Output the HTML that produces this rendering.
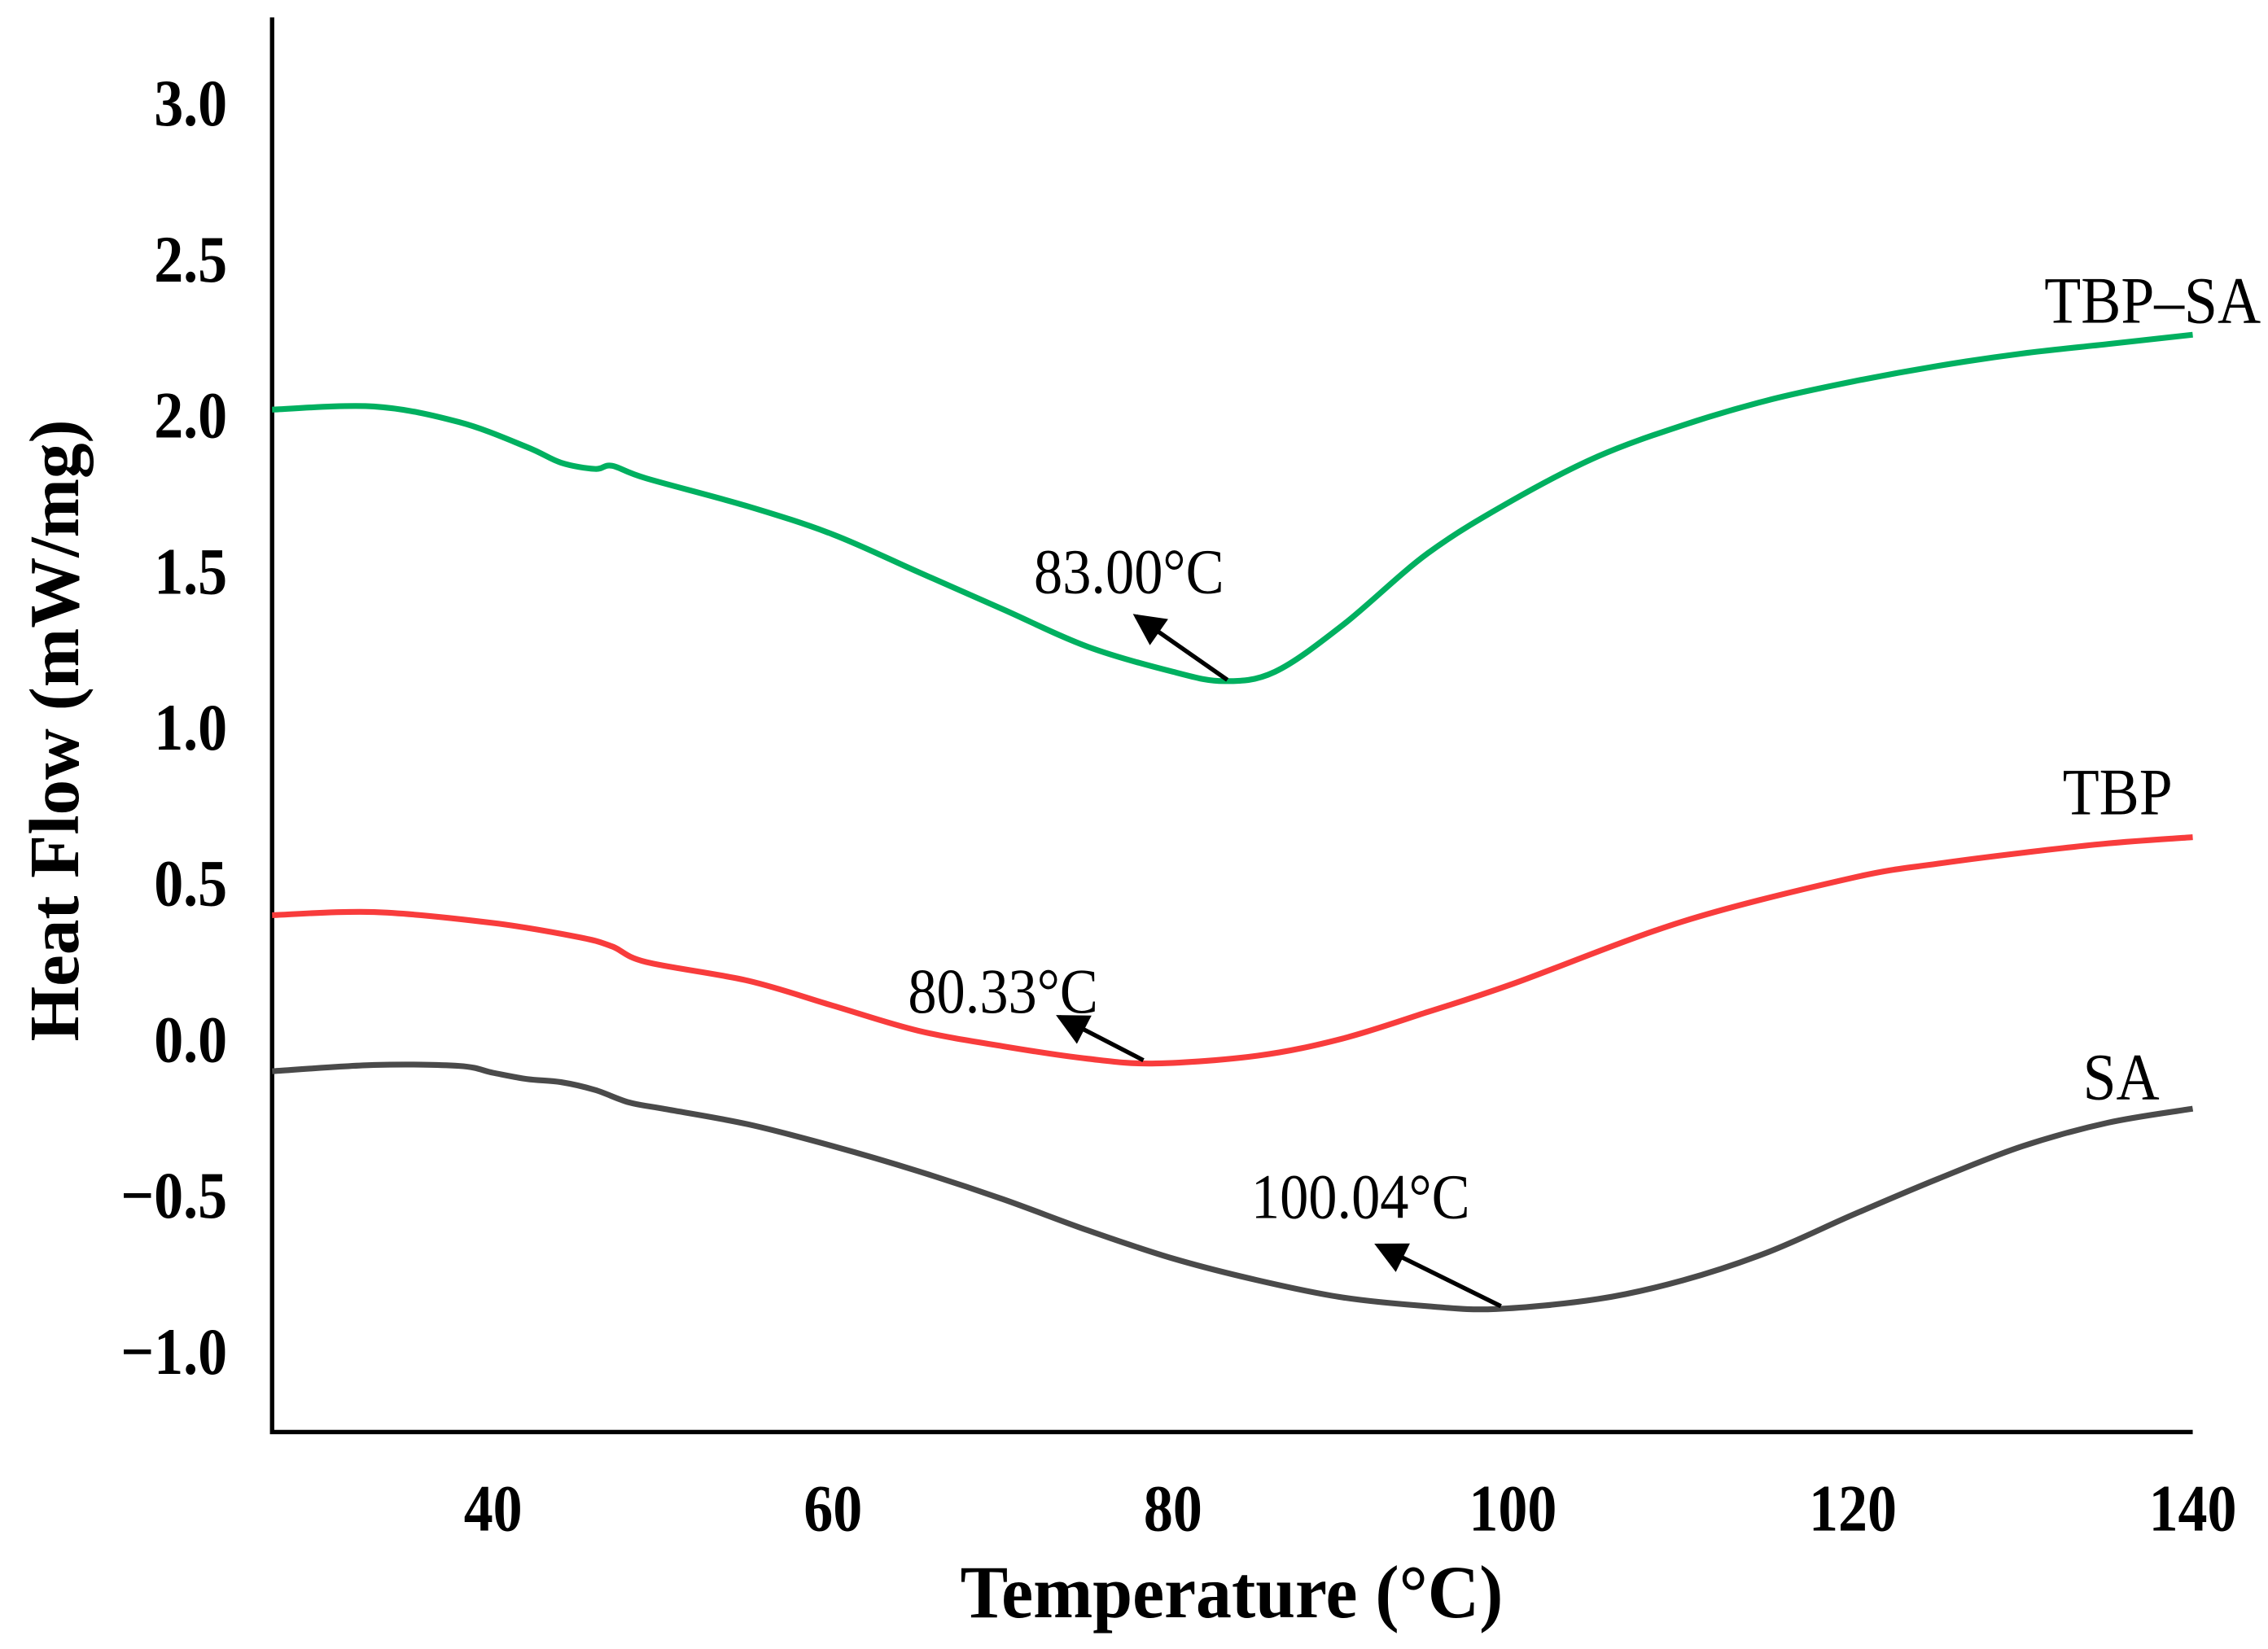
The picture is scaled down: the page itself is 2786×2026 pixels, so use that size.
<!DOCTYPE html>
<html><head><meta charset="utf-8"><style>html,body{margin:0;padding:0;background:#fff}svg{display:block}</style></head>
<body>
<svg id="chart" width="2786" height="2026" viewBox="0 0 1567 1140" preserveAspectRatio="none" xmlns="http://www.w3.org/2000/svg" font-family="'Liberation Serif', serif">
<g id="axes"></g>
<g id="series"></g>
<g id="annots"></g>
</svg>
<script>
const xTicks = [40, 60, 80, 100, 120, 140];
const yTicks = [3.0, 2.5, 2.0, 1.5, 1.0, 0.5, 0.0, -0.5, -1.0];
const yTickLabels = ["3.0","2.5","2.0","1.5","1.0","0.5","0.0","\u22120.5","\u22121.0"];
const tbpsaX = [27,33,38,42,44,46,47,49,55,60,65,70,75,80,83,86,90,95,100,105,110,115,120,125,130,135,140];
const tbpsaY = [2.02,2.03,1.98,1.90,1.85,1.83,1.84,1.80,1.71,1.62,1.50,1.38,1.26,1.18,1.15,1.18,1.33,1.56,1.73,1.87,1.97,2.05,2.11,2.16,2.20,2.23,2.26];
const tbpX = [27,33,40,45,47,49,55,60,65,70,75,79,85,90,95,100,110,120,125,130,135,140];
const tbpY = [0.40,0.41,0.375,0.33,0.30,0.25,0.19,0.11,0.03,-0.02,-0.06,-0.075,-0.05,0.005,0.09,0.18,0.38,0.52,0.565,0.60,0.63,0.65];
const saX = [27,33,38,40,42,44,46,48,50,55,60,65,70,75,80,85,90,95,99,105,110,115,120,125,130,135,140];
const saY = [-0.10,-0.08,-0.083,-0.105,-0.125,-0.135,-0.16,-0.20,-0.22,-0.27,-0.34,-0.42,-0.51,-0.61,-0.70,-0.77,-0.825,-0.853,-0.862,-0.83,-0.77,-0.68,-0.56,-0.445,-0.34,-0.265,-0.22];
const peakTemps = ["83.00\u00b0C","80.33\u00b0C","100.04\u00b0C"];

const NS="http://www.w3.org/2000/svg";
const X0=27, X1=140, PX0=188, PX1=1515;
const sx=v=>PX0+(v-X0)*(PX1-PX0)/(X1-X0);
const sy=v=>719-v*215.75;
function mk(t,p,a){const e=document.createElementNS(NS,t);for(const k in a)e.setAttribute(k,a[k]);p.appendChild(e);return e;}
function txt(p,s,x,y,anchor,fs,bold,sc){const t=mk('text',p,{x:0,y:0,'text-anchor':anchor,'font-size':fs,transform:`translate(${x},${y}) scale(${sc},1)`});if(bold)t.setAttribute('font-weight','bold');t.textContent=s;return t;}
const axes=document.getElementById('axes');
let l=mk('path',axes,{d:`M${PX0},12 V990 H${PX1}`,fill:'none',stroke:'#000','stroke-width':3});


xTicks.forEach(v=>{const t=txt(axes,String(v),sx(v),1058,'middle',46,true,0.88);

});
yTicks.forEach((v,i)=>{const t=txt(axes,yTickLabels[i],157,sy(v)+15,'end',46,true,0.88);

});
let xt=txt(axes,'Temperature (\u00b0C)',851,1118,'middle',52,true,0.95);


let yt=mk('text',axes,{x:0,y:0,'text-anchor':'middle','font-size':49,'font-weight':'bold',transform:'translate(54,505) rotate(-90)'});yt.textContent='Heat Flow (mW/mg)';



function smooth(xs,ys){const p=xs.map((x,i)=>[sx(x),sy(ys[i])]);let d=`M${p[0][0]},${p[0][1]}`;
for(let i=0;i<p.length-1;i++){const a=p[i-1]||p[i],b=p[i],c=p[i+1],e=p[i+2]||c;
d+=` C${b[0]+(c[0]-a[0])/6},${b[1]+(c[1]-a[1])/6} ${c[0]-(e[0]-b[0])/6},${c[1]-(e[1]-b[1])/6} ${c[0]},${c[1]}`;}return d;}
const sg=document.getElementById('series');
let s1=mk('path',sg,{d:smooth(tbpsaX,tbpsaY),fill:'none',stroke:'#00b060','stroke-width':4});


let s2=mk('path',sg,{d:smooth(tbpX,tbpY),fill:'none',stroke:'#f83c3c','stroke-width':4});


let s3=mk('path',sg,{d:smooth(saX,saY),fill:'none',stroke:'#4a4a4a','stroke-width':4});



const an=document.getElementById('annots');
const defs=mk('defs',an,{});const m=mk('marker',defs,{id:'ah',refX:7,refY:4,orient:'auto',markerUnits:'userSpaceOnUse'});
m.setAttribute('viewBox','0 0 8 8');m.setAttribute('markerWidth','26');m.setAttribute('markerHeight','22');
mk('path',m,{d:'M0,0 L8,4 L0,8 Z',fill:'#000'});
function label(s,x,y,anchor,fs,name){const t=txt(an,s,x,y,anchor,fs,false,0.9);

}
function arrow(x1,y1,x2,y2,name){const a=mk('line',an,{x1:x1,y1:y1,x2:x2,y2:y2,stroke:'#000','stroke-width':3,'marker-end':'url(#ah)'});

}
label(peakTemps[0],780,410,'middle',44,'tbp-sa-peak-label');
arrow(848,470,785,426,'tbp-sa-peak-arrow');
label(peakTemps[1],693,700,'middle',44,'tbp-peak-label');
arrow(790,733,732,703,'tbp-peak-arrow');
label(peakTemps[2],940,842,'middle',44,'sa-peak-label');
arrow(1037,903,952,861,'sa-peak-arrow');
label('TBP\u2013SA',1562,223,'end',46,'tbp-sa-series-label');
label('TBP',1501,563,'end',46,'tbp-series-label');
label('SA',1492,760,'end',46,'sa-series-label');
</script>
</body></html>
